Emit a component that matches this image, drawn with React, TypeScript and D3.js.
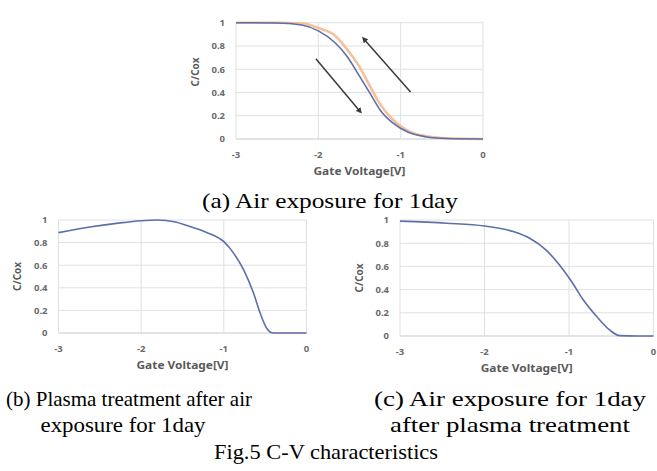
import * as d3 from 'd3';

// (a) air exposure for 1 day: two sweeps
const voltageA = [-3, -2.5, -2.2, -2.0, -1.8, -1.65, -1.5, -1.37, -1.25, -1.1, -0.9, -0.7, -0.5, -0.3, 0];
const sweepDownA = [1, 0.998, 0.98, 0.93, 0.83, 0.71, 0.54, 0.39, 0.25, 0.14, 0.055, 0.02, 0.006, 0.002, 0];
const sweepUpA = [1, 1, 0.995, 0.955, 0.89, 0.77, 0.62, 0.45, 0.3, 0.17, 0.065, 0.025, 0.008, 0.002, 0];

// (b) plasma treatment after air exposure
const voltageB = [-3, -2.6, -2.3, -2.0, -1.8, -1.6, -1.4, -1.2, -1.0, -0.88, -0.76, -0.64, -0.56, -0.48, -0.4, -0.2, 0];
const capB = [0.888, 0.94, 0.97, 0.994, 1.0, 0.985, 0.94, 0.888, 0.808, 0.705, 0.558, 0.351, 0.174, 0.04, 0, 0, 0];

// (c) air exposure after plasma treatment
const voltageC = [-3, -2.45, -2.0, -1.66, -1.46, -1.27, -1.11, -0.97, -0.83, -0.67, -0.52, -0.4, -0.2, 0];
const capC = [0.99, 0.972, 0.948, 0.9, 0.84, 0.74, 0.61, 0.47, 0.31, 0.166, 0.052, 0.003, 0, 0];

const xTicks = [-3, -2, -1, 0];
const yTicks = [0, 0.2, 0.4, 0.6, 0.8, 1];
const yTickLabels = ['0', '0.2', '0.4', '0.6', '0.8', '1'];

// arrows in (a): [fromV, fromC, toV, toC]
const arrowsA = [
    [-2.03, 0.69, -1.49, 0.234],
    [-0.88, 0.405, -1.45, 0.863],
];

interface Series {
    v: number[];
    c: number[];
    color: string;
    width: number;
}

interface PanelProps {
    left: number;
    right: number;
    top: number;
    bottom: number;
    series: Series[];
    yTitleY?: number;
    arrows?: number[][];
}

const tickFont = { fontFamily: '"Noto Sans", sans-serif', fontSize: 9.5, fontWeight: 700, fill: '#6a6a6a' };

function Panel({ left, right, top, bottom, series, yTitleY, arrows }: PanelProps) {
    const x = d3.scaleLinear().domain([-3, 0]).range([left, right]);
    const y = d3.scaleLinear().domain([0, 1]).range([bottom, top]);
    const line = d3.line<[number, number]>()
        .x(d => x(d[0]))
        .y(d => y(d[1]))
        .curve(d3.curveMonotoneX);

    return (
        <g>
            {yTicks.map(t => (
                <line key={'h' + t} x1={left} x2={right} y1={y(t)} y2={y(t)}
                    stroke={t === 0 ? '#c8c8c8' : '#e0e0e0'} strokeWidth={1} />
            ))}
            {xTicks.map(t => (
                <line key={'v' + t} x1={x(t)} x2={x(t)} y1={top} y2={bottom} stroke="#e0e0e0" strokeWidth={1} />
            ))}
            {series.map((s, i) => (
                <path key={i} d={line(s.v.map((v, j) => [v, s.c[j]] as [number, number])) || ''}
                    fill="none" stroke={s.color} strokeWidth={s.width} strokeLinejoin="round" />
            ))}
            {(arrows || []).map((a, i) => (
                <line key={'a' + i} x1={x(a[0])} y1={y(a[1])} x2={x(a[2])} y2={y(a[3])}
                    stroke="#3a3a3a" strokeWidth={1.5} markerEnd="url(#arrowHead)" />
            ))}
            {yTicks.map((t, i) => (
                <text key={'yl' + t} x={left - 11} y={y(t)} dy="0.35em" textAnchor="end" {...tickFont}>
                    {yTickLabels[i]}
                </text>
            ))}
            {xTicks.map(t => (
                <text key={'xl' + t} x={x(t)} y={bottom + 16} dy="0.35em" textAnchor="middle" {...tickFont}>
                    {t}
                </text>
            ))}
            <text x={(left + right) / 2} y={bottom + 32} dy="0.35em" textAnchor="middle" {...tickFont}
                fontSize={10} fill="#5a5a5a" textLength={92} lengthAdjust="spacingAndGlyphs">
                Gate Voltage[V]
            </text>
            <text transform={`translate(${left - 41},${yTitleY ?? (top + bottom) / 2}) rotate(-90)`}
                dy="0.35em" textAnchor="middle" {...tickFont} fontSize={10} fill="#5a5a5a">
                C/Cox
            </text>
        </g>
    );
}

const capFont = { fontFamily: '"Liberation Serif", "Times New Roman", serif', fontSize: 22, fill: '#000' };

export default function App() {
    const blue = '#5d6fab';
    const orange = '#f5c09a';
    return (
        <>
            <style>{'body{margin:0}'}</style>
            <svg width={657} height={471} style={{ display: 'block', background: '#fff' }}>
                <defs>
                    <marker id="arrowHead" viewBox="0 0 10 10" refX="6" refY="5" markerWidth="4" markerHeight="4"
                        orient="auto" markerUnits="strokeWidth">
                        <path d="M0,0 L10,5 L0,10 z" fill="#3a3a3a" />
                    </marker>
                </defs>
                <Panel left={236} right={483} top={22.7} bottom={139} yTitleY={72}
                    series={[
                        { v: voltageA, c: sweepUpA, color: orange, width: 2.6 },
                        { v: voltageA, c: sweepDownA, color: blue, width: 1.6 },
                    ]}
                    arrows={arrowsA} />
                <Panel left={58.5} right={306.5} top={220} bottom={333}
                    series={[{ v: voltageB, c: capB, color: blue, width: 1.6 }]} />
                <Panel left={400} right={653.5} top={220} bottom={336}
                    series={[{ v: voltageC, c: capC, color: blue, width: 1.6 }]} />

                <text x={330} y={208} textAnchor="middle" textLength={256} lengthAdjust="spacingAndGlyphs" {...capFont}>(a) Air exposure for 1day</text>
                <text x={129} y={406} textAnchor="middle" textLength={246} lengthAdjust="spacingAndGlyphs" {...capFont}>(b) Plasma treatment after air</text>
                <text x={123} y={432} textAnchor="middle" textLength={165} lengthAdjust="spacingAndGlyphs" {...capFont}>exposure for 1day</text>
                <text x={510} y={406} textAnchor="middle" textLength={272} lengthAdjust="spacingAndGlyphs" {...capFont}>(c) Air exposure for 1day</text>
                <text x={510} y={432} textAnchor="middle" textLength={240} lengthAdjust="spacingAndGlyphs" {...capFont}>after plasma treatment</text>
                <text x={326} y={459} textAnchor="middle" textLength={224} lengthAdjust="spacingAndGlyphs" {...capFont}>Fig.5 C-V characteristics</text>
            </svg>
        </>
    );
}
